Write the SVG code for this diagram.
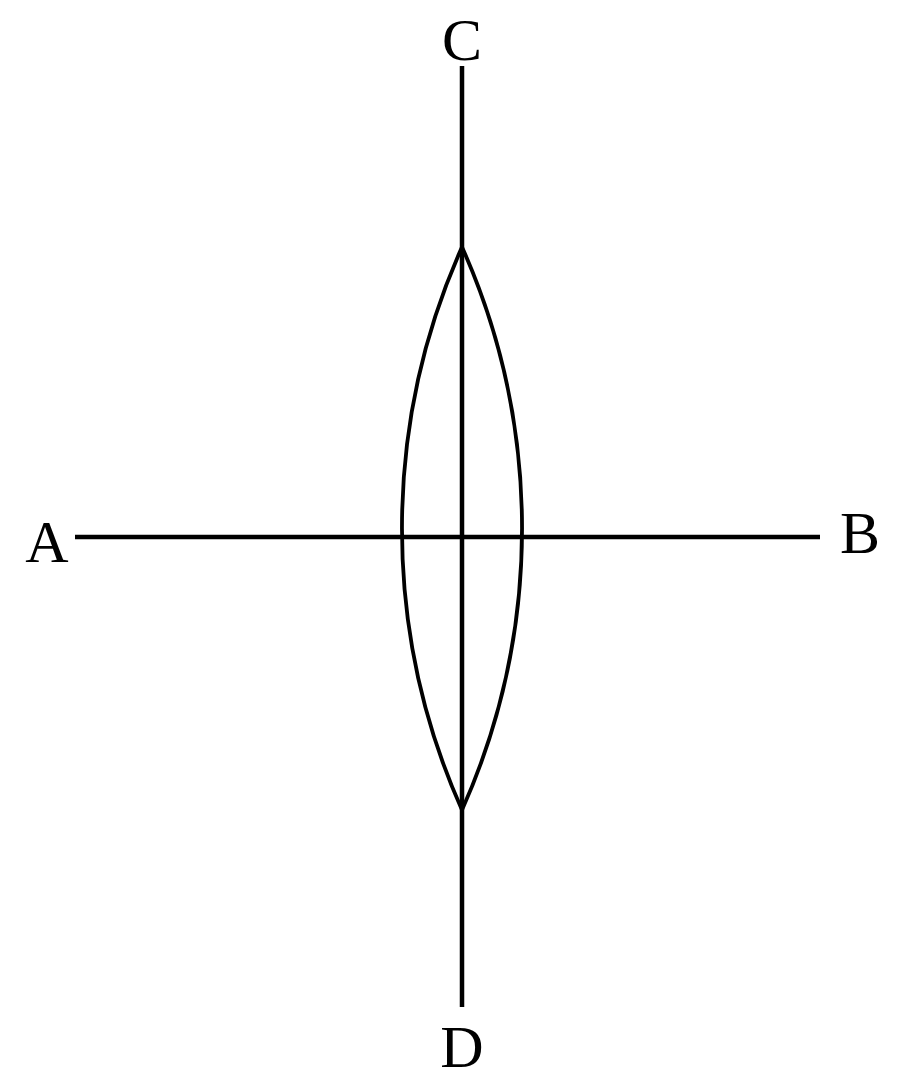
<svg xmlns="http://www.w3.org/2000/svg" width="900" height="1080" viewBox="0 0 900 1080">
<style>
.ln{stroke:#000;stroke-width:4.5;fill:none;stroke-linecap:butt}
.lens{stroke:#000;stroke-width:3.8;fill:none}
.lbl{font-family:"Liberation Serif","Times New Roman",serif;font-size:60px;fill:#000;text-anchor:middle}
</style>
<rect width="900" height="1080" fill="#fff"/>
<g id="connectors">
<line class="ln" x1="75" y1="537" x2="820" y2="537"/>
<line class="ln" x1="462" y1="66" x2="462" y2="1007"/>
</g>
<g id="lens">
<path class="lens" d="M462,247 A690,690 0 0 0 462,810"/>
<path class="lens" d="M462,247 A690,690 0 0 1 462,810"/>
</g>
<g id="A"><text class="lbl" x="47" y="562">A</text></g>
<g id="B"><text class="lbl" x="860" y="553">B</text></g>
<g id="C"><text class="lbl" x="462" y="60">C</text></g>
<g id="D"><text class="lbl" x="462" y="1067">D</text></g>
</svg>
